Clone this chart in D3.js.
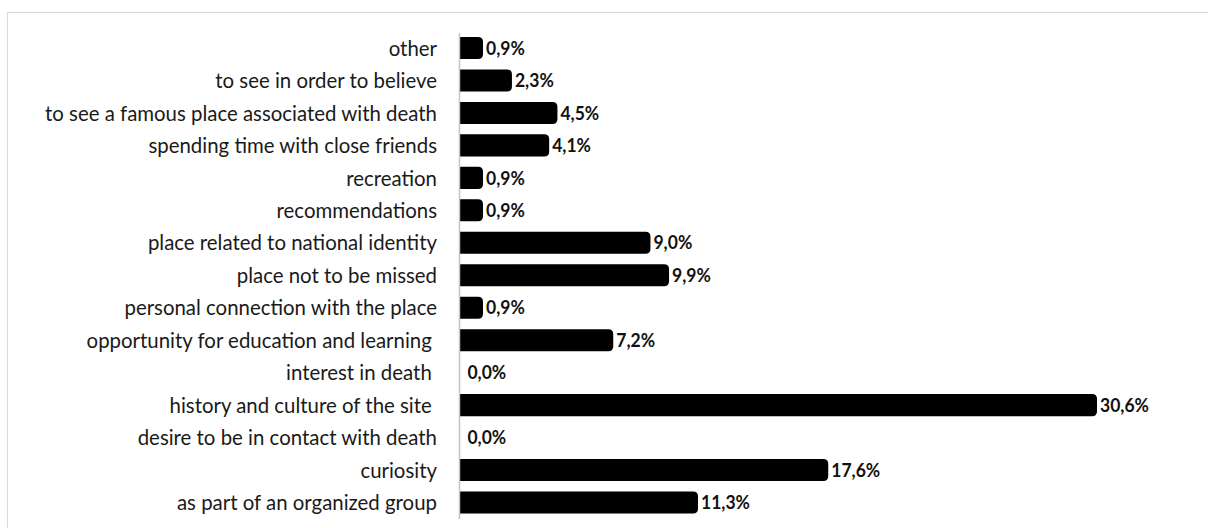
<!DOCTYPE html>
<html>
<head>
<meta charset="utf-8">
<script src="https://cdn.jsdelivr.net/npm/d3@7"></script>
<style>
  html, body { margin: 0; padding: 0; background: #fff; }
  svg { display: block; }
</style>
</head>
<body>
<svg id="chart" width="1208" height="528"></svg>
<script>
// Motives for visiting, share of respondents (%), top to bottom
const categories = [
  "other",
  "to see in order to believe",
  "to see a famous place associated with death",
  "spending time with close friends",
  "recreation",
  "recommendations",
  "place related to national identity",
  "place not to be missed",
  "personal connection with the place",
  "opportunity for education and learning ",
  "interest in death ",
  "history and culture of the site ",
  "desire to be in contact with death",
  "curiosity",
  "as part of an organized group"
];
const values = [0.9, 2.3, 4.5, 4.1, 0.9, 0.9, 9.0, 9.9, 0.9, 7.2, 0.0, 30.6, 0.0, 17.6, 11.3];
const valueLabels = ["0,9%", "2,3%", "4,5%", "4,1%", "0,9%", "0,9%", "9,0%", "9,9%", "0,9%", "7,2%", "0,0%", "30,6%", "0,0%", "17,6%", "11,3%"];

const svg = d3.select("#chart");
const font = "Lato, 'Open Sans', 'DejaVu Sans', sans-serif";

// outer chart frame
svg.append("rect")
  .attr("x", 7.5).attr("y", 12.5)
  .attr("width", 1210).attr("height", 530)
  .attr("fill", "none").attr("stroke", "#d9d9d9").attr("stroke-width", 1);

const axisX = 459;
const x = d3.scaleLinear().domain([0, 30.6]).range([464.4, 1097]);
const y = d3.scaleBand().domain(categories).range([31.8, 518.7]).paddingInner(0.32).paddingOuter(0.16);

// Set a font size so that the widest text, narrowed by factor k, spans targetWidth,
// then narrow every glyph run by the same factor.
function fitNarrow(sel, targetWidth, k) {
  let w = 0;
  sel.each(function() { w = Math.max(w, this.getComputedTextLength()); });
  sel.attr("font-size", 20 * targetWidth / (w * k));
  sel.each(function() {
    const n = this.getComputedTextLength();
    d3.select(this).attr("textLength", n * k).attr("lengthAdjust", "spacingAndGlyphs");
  });
}

// category labels, right aligned against the axis
const catText = svg.append("g").selectAll("text").data(categories).join("text")
  .attr("x", 437)
  .attr("y", d => y(d) + y.bandwidth() / 2)
  .attr("dy", "0.36em")
  .attr("text-anchor", "end")
  .attr("font-family", font)
  .attr("font-size", 20)
  .attr("fill", "#1a1a1a")
  .attr("xml:space", "preserve")
  .style("white-space", "pre")
  .text(d => d);
fitNarrow(catText, 392, 0.96);

// bars with rounded ends
svg.append("g").selectAll("path").data(values).join("path")
  .attr("d", (v, i) => {
    if (v <= 0) return null;
    const y0 = y(categories[i]), h = y.bandwidth();
    const x1 = x(v), r = 5;
    return `M${axisX},${y0}H${x1 - r}Q${x1},${y0} ${x1},${y0 + r}V${y0 + h - r}Q${x1},${y0 + h} ${x1 - r},${y0 + h}H${axisX}Z`;
  })
  .attr("fill", "#000");

// axis line
svg.append("line")
  .attr("x1", axisX + 0.5).attr("x2", axisX + 0.5)
  .attr("y1", 33).attr("y2", 519)
  .attr("stroke", "#c4c4c4").attr("stroke-width", 1.5);

// value labels
const valText = svg.append("g").selectAll("text").data(values).join("text")
  .attr("x", v => x(v) + 3)
  .attr("y", (v, i) => y(categories[i]) + y.bandwidth() / 2)
  .attr("dy", "0.36em")
  .attr("font-family", font)
  .attr("font-weight", "bold")
  .attr("font-size", 20)
  .attr("fill", "#111")
  .text((v, i) => valueLabels[i]);
fitNarrow(valText, 49, 0.95);
</script>
</body>
</html>
